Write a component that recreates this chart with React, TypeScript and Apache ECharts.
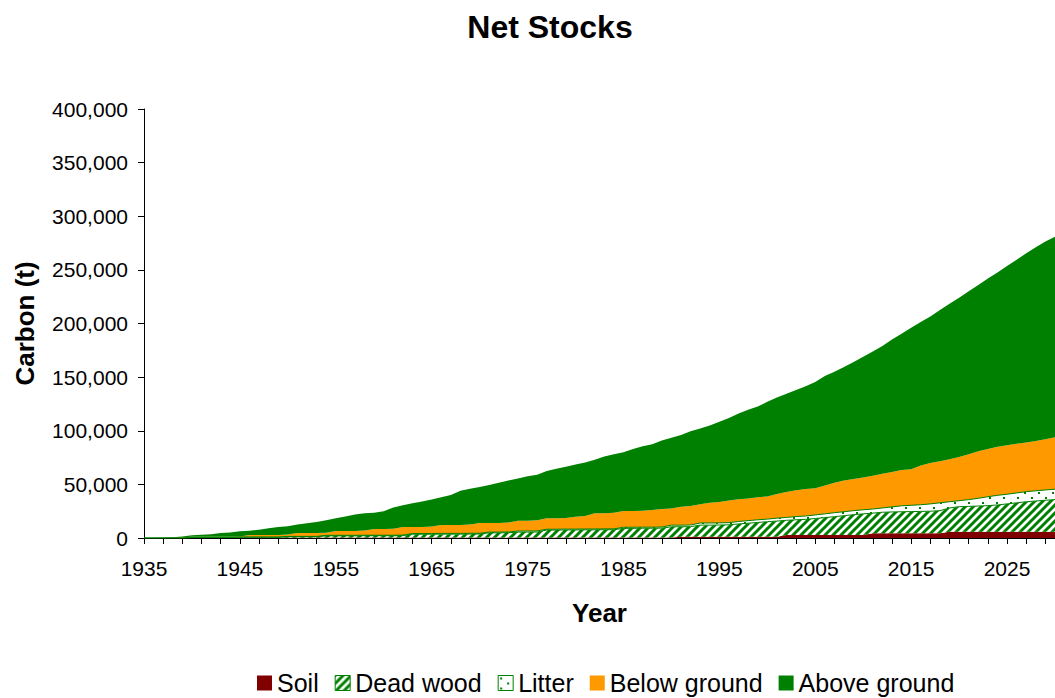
import React, { useEffect, useRef } from "react";
import * as echarts from "echarts";

// Years shown on the category axis
const FIRST_YEAR = 1935;
const LAST_YEAR = 2030;
const years: string[] = [];
for (let y = FIRST_YEAR; y <= LAST_YEAR; y++) years.push(String(y));

const seriesNames = ["Soil", "Dead wood", "Litter", "Below ground", "Above ground"];

// Upper edge of each stacked band (t of carbon), one value per year 1935-2030
const soilTop = [
  0, 0, 0, 0, 0, 400, 400, 400, 400, 400,
  400, 400, 400, 400, 400, 400, 400, 400, 400, 400,
  400, 400, 400, 400, 400, 400, 400, 400, 400, 400,
  400, 400, 400, 400, 400, 400, 400, 400, 400, 400,
  400, 400, 400, 400, 400, 400, 400, 400, 400, 400,
  400, 400, 400, 400, 400, 400, 1200, 1200, 1200, 1200,
  1200, 1200, 1200, 1200, 1200, 1200, 1200, 2800, 2800, 2800,
  2800, 2800, 2800, 2800, 2800, 2800, 4400, 4400, 4400, 4400,
  4400, 4400, 4400, 4400, 5900, 5900, 5900, 5900, 5900, 5900,
  5900, 5900, 5900, 5900, 5900, 5900,
];

const deadWoodTop = [
  0, 0, 0, 0, 0, 400, 400, 400, 400, 400,
  700, 700, 700, 700, 700, 1200, 1200, 1200, 1200, 2000,
  2000, 2000, 2000, 2100, 2100, 2100, 2100, 2200, 3500, 3500,
  3500, 3600, 3600, 3600, 3700, 3700, 4800, 4800, 4900, 5500,
  5500, 5600, 7400, 7400, 7500, 7500, 7600, 7600, 7700, 7700,
  9000, 9000, 9100, 9100, 9200, 10500, 10500, 10600, 12000, 12000,
  12100, 12300, 13100, 13800, 14500, 15200, 15800, 16500, 17000, 17400,
  18200, 19000, 19900, 20800, 21800, 22500, 23200, 24000, 24300, 24500,
  24600, 24800, 25000, 25500, 28000, 29200, 29500, 29800, 30200, 30800,
  31800, 32800, 33800, 34500, 35200, 35800,
];

const litterTop = [
  0, 0, 0, 0, 0, 500, 500, 500, 500, 500,
  900, 900, 900, 900, 900, 1500, 1500, 1500, 1500, 2500,
  2500, 2500, 2500, 2600, 2600, 2600, 2600, 2700, 4200, 4200,
  4200, 4300, 4300, 4300, 4400, 4400, 5500, 5500, 5600, 6500,
  6500, 6600, 8200, 8200, 8300, 8300, 8400, 8400, 8500, 8500,
  10000, 10000, 10100, 10100, 10200, 12000, 12000, 12100, 14000, 14000,
  14100, 14300, 15400, 16200, 17000, 17600, 18500, 19200, 20000, 20500,
  21500, 22500, 23600, 24500, 25500, 26300, 27000, 28000, 29000, 30000,
  30500, 31000, 31800, 32800, 33800, 34800, 35800, 37000, 38500, 39800,
  40800, 42000, 43200, 44000, 44800, 45500,
];

const belowGroundTop = [
  0, 0, 0, 300, 800, 1200, 1200, 1200, 1200, 1200,
  1500, 2800, 2800, 2800, 2800, 3200, 4700, 4700, 4700, 5000,
  6500, 6500, 6500, 7000, 8400, 8400, 8600, 10300, 10300, 10300,
  10800, 12100, 12100, 12100, 12500, 14000, 14000, 14000, 14500, 16000,
  16200, 16500, 18300, 18300, 18600, 19900, 20500, 23000, 23000, 23500,
  25200, 25200, 25400, 26000, 27000, 27500, 29200, 29800, 31500, 32900,
  33500, 35000, 36100, 36800, 38000, 38800, 41000, 43000, 44500, 45800,
  46500, 49000, 51500, 53500, 55000, 56500, 58000, 59800, 61500, 63300,
  64000, 67500, 70000, 71500, 73500, 75500, 78000, 81000, 83000, 85000,
  86500, 87800, 89000, 90500, 92000, 94000,
];

const aboveGroundTop = [
  0, 0, 300, 800, 1500, 2500, 3000, 3500, 4600, 5200,
  6200, 6800, 7800, 9000, 10300, 11000, 12500, 13700, 15000, 16500,
  18300, 20000, 21800, 23000, 23500, 25000, 28500, 30500, 32500, 34000,
  36000, 38000, 40000, 44000, 46000, 47500, 49500, 51500, 53500, 55500,
  57500, 59000, 62500, 64500, 66500, 68500, 70500, 73000, 76000, 78000,
  80000, 83000, 85500, 87500, 91000, 93500, 96000, 99500, 102000, 105000,
  108500, 112000, 116000, 119500, 122500, 127000, 131000, 134500, 138000, 141500,
  145500, 151000, 155000, 159500, 164000, 169000, 174000, 179000, 185000, 190500,
  196000, 201500, 206500, 212500, 218500, 224000, 230000, 236000, 242000, 247500,
  253500, 259500, 265500, 271000, 276500, 281000,
];

const yTicks = [0, 50000, 100000, 150000, 200000, 250000, 300000, 350000, 400000];

// Each band's own thickness, for ECharts stacking
const bandTops = [soilTop, deadWoodTop, litterTop, belowGroundTop, aboveGroundTop];
const bandValues = bandTops.map((top, k) =>
  top.map((v, i) => (k === 0 ? v : v - bandTops[k - 1][i]))
);

const GREEN = "#008000";
const MAROON = "#800000";
const ORANGE = "#FF9900";

function hatchPattern(): HTMLCanvasElement {
  const s = 8;
  const c = document.createElement("canvas");
  c.width = s;
  c.height = s;
  const g = c.getContext("2d")!;
  g.fillStyle = "#ffffff";
  g.fillRect(0, 0, s, s);
  g.strokeStyle = GREEN;
  g.lineWidth = 3;
  g.beginPath();
  g.moveTo(0, s);
  g.lineTo(s, 0);
  g.moveTo(-2, 2);
  g.lineTo(2, -2);
  g.moveTo(s - 2, s + 2);
  g.lineTo(s + 2, s - 2);
  g.stroke();
  return c;
}

function dotPattern(): HTMLCanvasElement {
  const w = 14;
  const h = 10;
  const c = document.createElement("canvas");
  c.width = w;
  c.height = h;
  const g = c.getContext("2d")!;
  g.fillStyle = "#ffffff";
  g.fillRect(0, 0, w, h);
  g.fillStyle = GREEN;
  g.fillRect(2, 2, 2, 2);
  g.fillRect(9, 7, 2, 2);
  return c;
}

export default function App() {
  const ref = useRef<HTMLDivElement>(null);

  useEffect(() => {
    if (!ref.current) return;
    const chart = echarts.init(ref.current, undefined, { renderer: "svg" });

    const hatch = { image: hatchPattern(), repeat: "repeat" as const };
    const dots = { image: dotPattern(), repeat: "repeat" as const };
    const fills: any[] = [MAROON, hatch, dots, ORANGE, GREEN];
    const edges = [null, GREEN, GREEN, null, null];

    const font = "'Liberation Sans', Arial, sans-serif";

    chart.setOption({
      animation: false,
      textStyle: { fontFamily: font, color: "#000" },
      title: {
        text: "Net Stocks",
        left: 545,
        top: 6,
        textAlign: "center",
        textStyle: { fontFamily: font, fontSize: 32, fontWeight: "bold", color: "#000" },
      },
      legend: {
        left: 257,
        top: 669,
        padding: 0,
        icon: "rect",
        itemWidth: 15,
        itemHeight: 15,
        itemGap: 16,
        textStyle: { fontFamily: font, fontSize: 25, color: "#000", lineHeight: 28 },
        data: seriesNames.map((name, k) => ({
          name,
          itemStyle: {
            color: fills[k],
            borderColor: edges[k] || fills[k],
            borderWidth: edges[k] ? 1 : 0,
          },
        })),
      },
      grid: { left: 144, right: 0, top: 109, bottom: 160, containLabel: false },
      xAxis: {
        type: "category",
        data: years,
        boundaryGap: false,
        name: "Year",
        nameLocation: "middle",
        nameGap: 62,
        nameTextStyle: { fontFamily: font, fontSize: 26, fontWeight: "bold", color: "#000" },
        axisLine: { lineStyle: { color: "#000", width: 1 } },
        axisTick: { interval: 1, length: 6, lineStyle: { color: "#000" } },
        axisLabel: { interval: 9, margin: 20, fontSize: 21, color: "#000", fontFamily: font },
        splitLine: { show: false },
      },
      yAxis: {
        type: "value",
        min: yTicks[0],
        max: yTicks[yTicks.length - 1],
        interval: yTicks[1] - yTicks[0],
        name: "Carbon (t)",
        nameLocation: "middle",
        nameGap: 106,
        nameTextStyle: { fontFamily: font, fontSize: 26, fontWeight: "bold", color: "#000" },
        axisLine: { show: true, lineStyle: { color: "#000", width: 1 } },
        axisTick: { show: true, length: 6, lineStyle: { color: "#000" } },
        axisLabel: {
          margin: 16,
          fontSize: 21,
          color: "#000",
          fontFamily: font,
          formatter: (v: number) => v.toLocaleString("en-US"),
        },
        splitLine: { show: false },
      },
      series: seriesNames.map((name, k) => ({
        name,
        type: "line",
        stack: "carbon",
        data: bandValues[k],
        symbol: "none",
        showSymbol: false,
        lineStyle: { width: edges[k] ? 1 : 0, color: edges[k] || (fills[k] as string) },
        itemStyle: { color: edges[k] || fills[k] },
        areaStyle: { color: fills[k], opacity: 1 },
        z: 2,
      })),
    });

    return () => chart.dispose();
  }, []);

  return (
    <div
      ref={ref}
      style={{ position: "absolute", left: 0, top: 0, width: 1055, height: 698 }}
    />
  );
}
